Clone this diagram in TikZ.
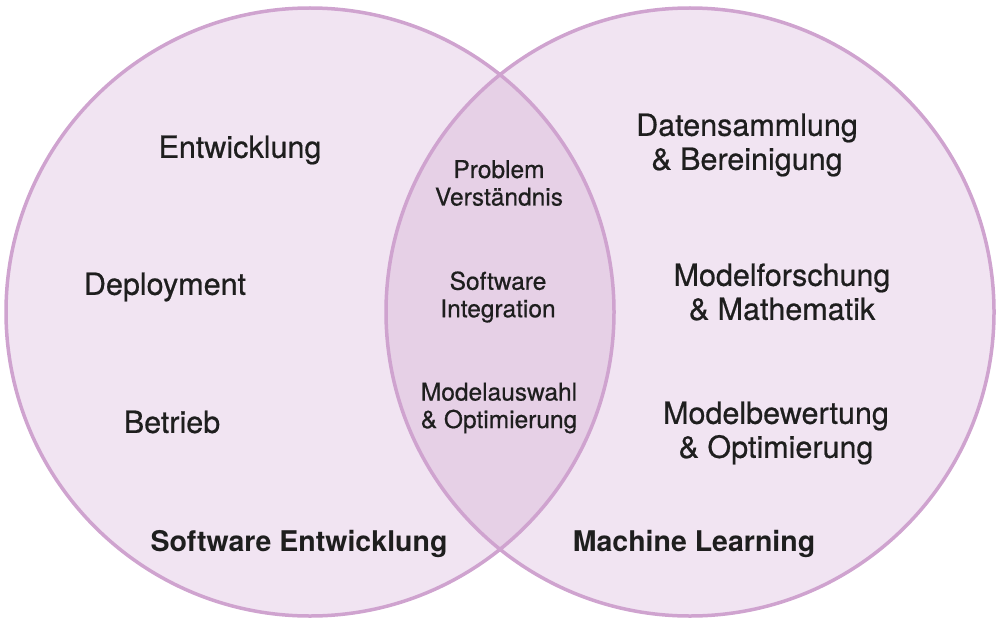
\documentclass[tikz,border=0pt]{standalone}
\usepackage{fontspec}
\setmainfont{TeX Gyre Heros}
\newfontfamily\medfont[FakeBold=0.6]{TeX Gyre Heros}
\definecolor{vennfill}{HTML}{F1E4F2}
\definecolor{lensfill}{HTML}{E6D0E6}
\definecolor{vennline}{HTML}{CFA3CF}
\definecolor{txt}{HTML}{1E1E1E}
\begin{document}
\begin{tikzpicture}[x=1pt,y=-1pt,
    big/.style={font=\medfont\fontsize{30.5}{34}\selectfont, align=center, text=txt},
    small/.style={font=\medfont\fontsize{24.5}{27.5}\selectfont, align=center, text=txt},
    title/.style={font=\fontsize{28.5}{34}\selectfont\bfseries, text=txt}]
    \useasboundingbox (0,0) rectangle (1000,623);

    \fill[vennfill] (310,312) circle (304) (690,312) circle (304);
    \begin{scope}
        \clip (310,312) circle (304);
        \fill[lensfill] (690,312) circle (304);
    \end{scope}
    \draw[vennline, line width=3.5] (310,312) circle (304) (690,312) circle (304);

    \node[big] (entw) at (240,150) {Entwicklung};
    \node[big] (depl) at (165,287) {Deployment};
    \node[big] (betr) at (172,422) {Betrieb};

    \node[big] (daten) at (747,145) {Datensammlung\\\& Bereinigung};
    \node[big] (forsch) at (782,292) {Modelforschung\\\& Mathematik};
    \node[big] (bewert) at (776,433) {Modelbewertung\\\& Optimierung};

    \node[small] (problem) at (499,183) {Problem\\Verständnis};
    \node[small] (integr) at (498,297) {Software\\Integration};
    \node[small] (auswahl) at (499,408) {Modelauswahl\\\& Optimierung};

    \node[title] (se) at (299,544) {Software Entwicklung};
    \node[title] (ml) at (694,544) {Machine Learning};
\end{tikzpicture}
\end{document}
